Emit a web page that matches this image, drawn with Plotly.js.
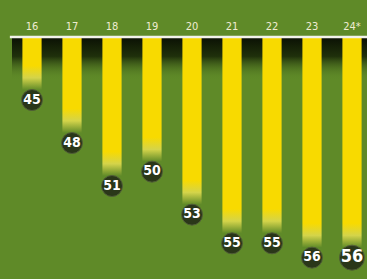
<!DOCTYPE html>
<html><head><meta charset="utf-8">
<script src="https://cdn.plot.ly/plotly-3.0.1.min.js"></script>
<style>html,body{margin:0;padding:0;background:#5f8a28;}</style>
</head><body>
<div id="chart" style="width:367px;height:279px;"></div>
<script>
const categories = ['16','17','18','19','20','21','22','23','24*'];
const values = [45, 48, 51, 50, 53, 55, 55, 56, 56];

const GREEN = '#5f8a28';
const YELLOW = '#f8da00';
const yTop = 40.6, yBottom = 57.49;
const barW = 0.48;
const FONT = 'DejaVu Sans Condensed, Liberation Sans Narrow, sans-serif';

const traces = [];
// dark band under the top rule
traces.push({
  type:'scatter', mode:'none', hoverinfo:'skip', showlegend:false,
  x:[-0.5, 8.5, 8.5, -0.5], y:[yTop, yTop, 43.6, 43.6],
  fill:'toself',
  fillgradient:{type:'vertical', start:yTop, stop:43.6,
    colorscale:[[0,'rgba(10,16,4,1)'],[0.45,'rgba(24,38,8,0.9)'],[1,'rgba(95,138,40,0)']]}
});
categories.forEach((c,i)=>{
  const v = values[i];
  const end = v - 0.7;
  const fadeStart = (v - 2.4 - yTop)/(end - yTop);
  const mid = (fadeStart + 1)/2;
  traces.push({
    type:'scatter', mode:'none', hoverinfo:'skip', showlegend:false,
    x:[i-barW/2, i+barW/2, i+barW/2, i-barW/2], y:[yTop, yTop, end, end],
    fill:'toself',
    fillgradient:{type:'vertical', start:yTop, stop:end,
      colorscale:[[0,YELLOW],[Math.max(0,fadeStart),YELLOW],[mid,'#d4d44a'],[1,'rgba(95,138,40,1)']]}
  });
});
const sizes = values.map((v,i)=> i===values.length-1 ? 25 : 21);
const fsz = values.map((v,i)=> i===values.length-1 ? 18 : 14);
traces.push({
  type:'scatter', mode:'markers+text', showlegend:false, hoverinfo:'skip',
  x: categories.map((c,i)=>i), y: values,
  text: values.map(String), textposition:'middle center',
  textfont:{family:FONT, size:fsz, color:'#ffffff', weight:'bold'},
  marker:{size:sizes, color:'#141414', line:{color:'#4a4a3e', width:1}}
});

const layout = {
  width:367, height:279,
  margin:{l:12, r:0, t:37, b:0},
  paper_bgcolor:GREEN, plot_bgcolor:GREEN,
  showlegend:false,
  xaxis:{range:[-0.5, 8.375], side:'top', tickmode:'array',
    tickvals:categories.map((c,i)=>i), ticktext:categories,
    showgrid:false, zeroline:false, showline:false,
    ticks:'', ticklabelstandoff:4,
    tickfont:{family:FONT, size:11, color:'#efecd2'}},
  yaxis:{range:[yBottom, yTop], showgrid:false, zeroline:false, showticklabels:false, showline:false, ticks:''},
  shapes:[{type:'line', xref:'paper', yref:'paper', x0:-0.006, x1:1, y0:1, y1:1, line:{color:'#f2f2ea', width:2.5}}]
};
Plotly.newPlot('chart', traces, layout, {displayModeBar:false, staticPlot:true});
</script>
</body></html>
